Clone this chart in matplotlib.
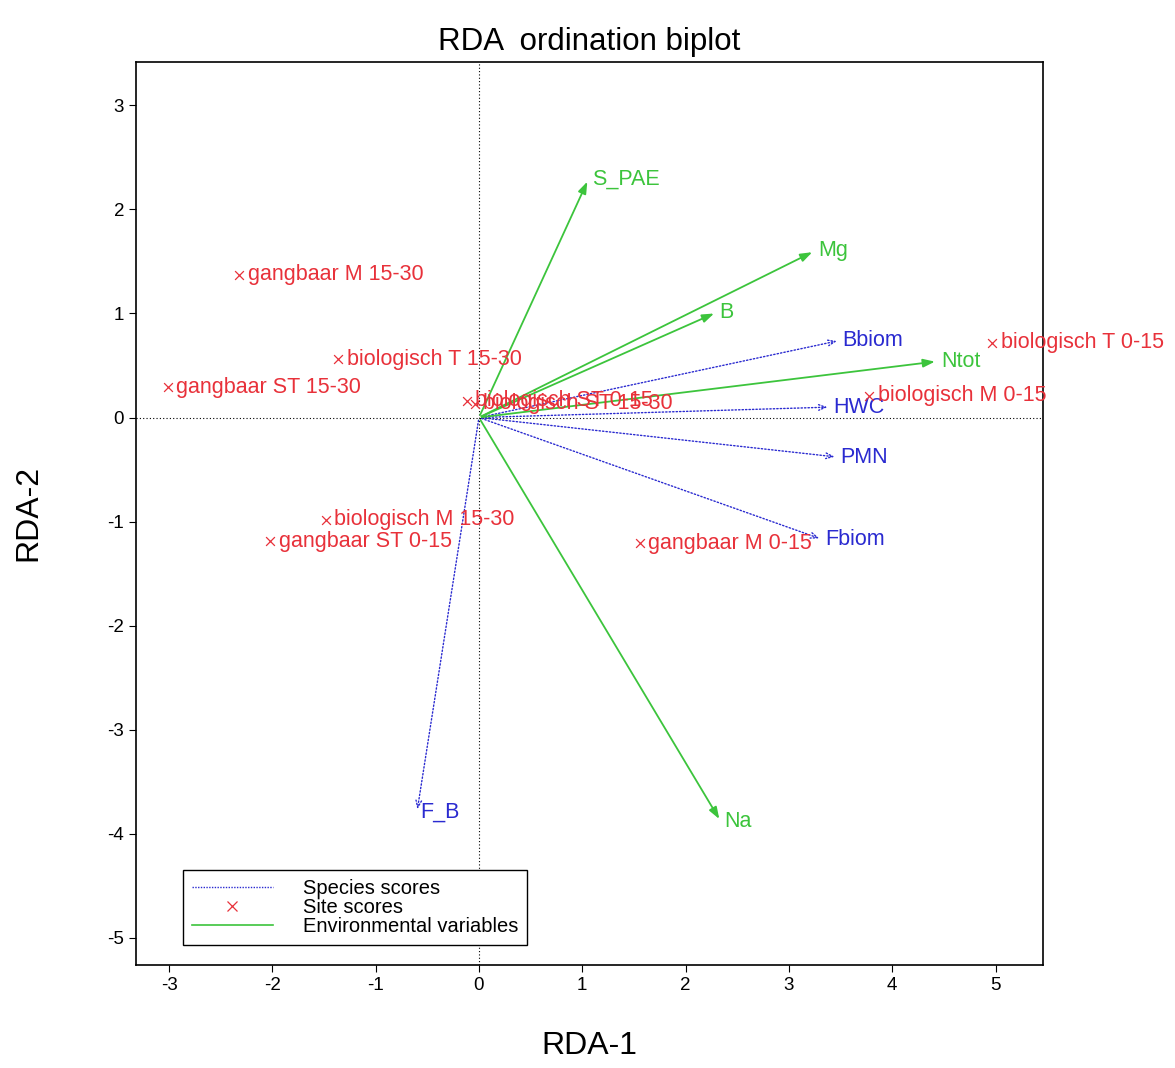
import matplotlib
matplotlib.use("Agg")
import matplotlib.pyplot as plt
from matplotlib.lines import Line2D

plt.rcParams['font.family'] = ['Liberation Sans', 'DejaVu Sans']
plt.rcParams['axes.unicode_minus'] = False

# site scores
site_names = ["gangbaar M 15-30", "biologisch T 15-30", "gangbaar ST 15-30",
              "biologisch ST 0-15", "biologisch ST 15-30", "biologisch M 15-30",
              "gangbaar ST 0-15", "gangbaar M 0-15", "biologisch M 0-15",
              "biologisch T 0-15"]
site_x = [-2.32, -1.36, -3.01, -0.12, -0.04, -1.48, -2.02, 1.56, 3.78, 4.97]
site_y = [1.37, 0.56, 0.29, 0.16, 0.13, -0.98, -1.19, -1.21, 0.21, 0.72]

# species scores
spec_names = ["Bbiom", "HWC", "PMN", "Fbiom", "F_B"]
spec_x = [3.49, 3.40, 3.47, 3.32, -0.60]
spec_y = [0.74, 0.10, -0.38, -1.17, -3.79]

# environmental variables
env_names = ["S_PAE", "Mg", "B", "Ntot", "Na"]
env_x = [1.06, 3.25, 2.30, 4.44, 2.34]
env_y = [2.29, 1.60, 1.01, 0.54, -3.88]

red = "#e8313a"
blue = "#2a2ad0"
green = "#3cc43c"

fig = plt.figure(figsize=(11.75, 10.68), dpi=100)
ax = fig.add_axes([0.1157, 0.0964, 0.772, 0.846])
ax.set_xlim(-3.32, 5.46)
ax.set_ylim(-5.26, 3.42)

ax.axhline(0, color="black", lw=0.8, ls=(0, (1, 2)), zorder=1)
ax.axvline(0, color="black", lw=0.8, ls=(0, (1, 2)), zorder=1)

for n, x, y in zip(spec_names, spec_x, spec_y):
    ax.annotate("", xy=(x, y), xytext=(0, 0),
                arrowprops=dict(arrowstyle="->,head_length=0.5,head_width=0.2",
                                color=blue, lw=1, ls=(0, (1, 1.5))), zorder=2)
    ax.text(x + 0.03, y, n, color=blue, fontsize=15.5, va="center", ha="left")

for n, x, y in zip(env_names, env_x, env_y):
    ax.annotate("", xy=(x, y), xytext=(0, 0),
                arrowprops=dict(arrowstyle="-|>,head_length=0.7,head_width=0.25",
                                color=green, lw=1.3), zorder=2)
    ax.text(x + 0.03, y, n, color=green, fontsize=15.5, va="center", ha="left")

ax.scatter(site_x, site_y, marker="x", color=red, s=40, lw=0.9, zorder=3)
for n, x, y in zip(site_names, site_x, site_y):
    ax.text(x + 0.08, y, n, color=red, fontsize=15.5, va="center", ha="left", zorder=4)

ax.set_xticks(range(-3, 6))
ax.set_yticks(range(-5, 4))
ax.tick_params(labelsize=13.5, direction="out", length=5, top=False, right=False)
for s in ax.spines.values():
    s.set_linewidth(1.2)

ax.set_xlabel("RDA-1", fontsize=23, labelpad=27)
ax.set_ylabel("RDA-2", fontsize=23, labelpad=46)
ax.set_title("RDA  ordination biplot", fontsize=22.5, pad=8)

handles = [Line2D([0], [0], color=blue, lw=1, ls=(0, (1, 1))),
           Line2D([0], [0], color=red, marker="x", ls="none", markersize=7, mew=0.9),
           Line2D([0], [0], color=green, lw=1.2)]
leg = ax.legend(handles, ["Species scores", "Site scores", "Environmental variables"],
                loc="lower left", bbox_to_anchor=(0.052, 0.022), borderaxespad=0,
                fontsize=14.5, frameon=True, fancybox=False, edgecolor="black",
                framealpha=1, handlelength=4.0, handletextpad=1.5,
                labelspacing=0.0, borderpad=0.45)
leg.get_frame().set_linewidth(1)

fig.savefig("out.png", dpi=100)
